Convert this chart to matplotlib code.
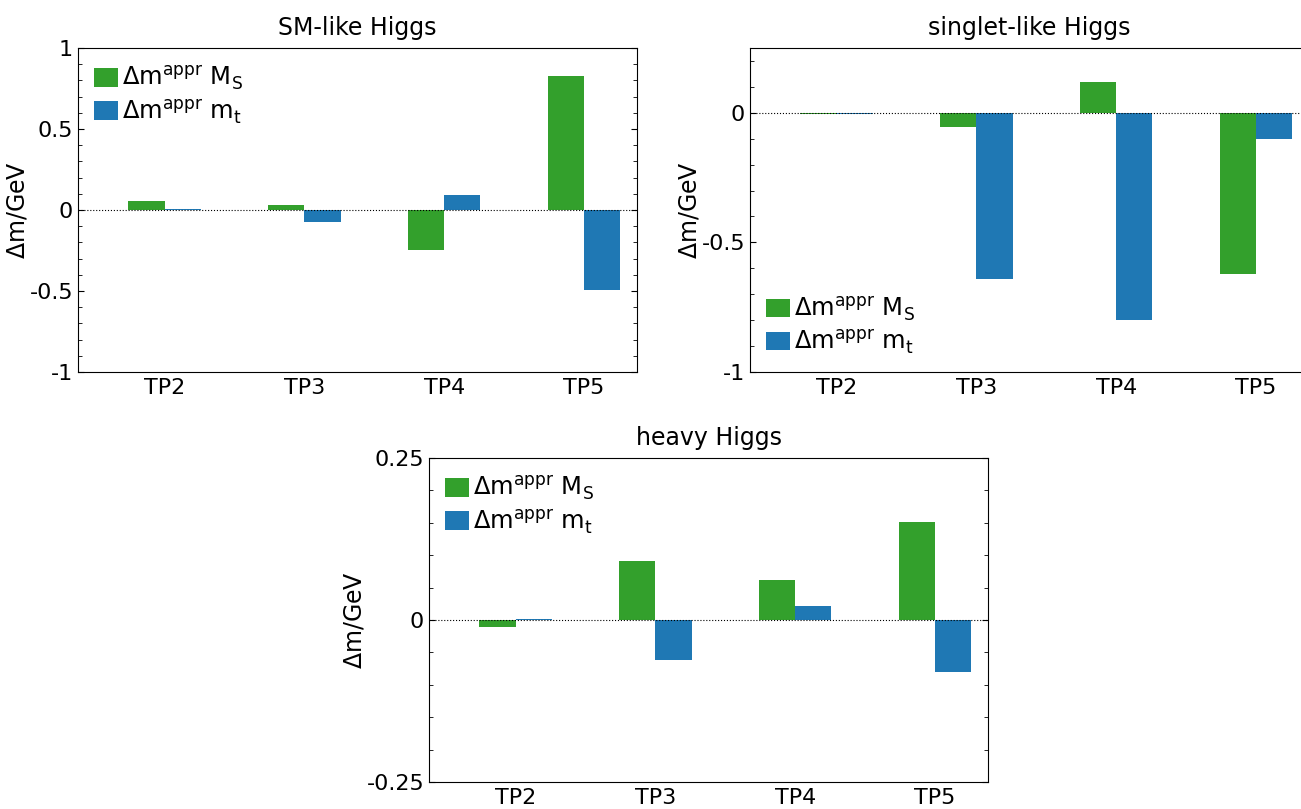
import matplotlib
matplotlib.use('Agg')
import matplotlib.pyplot as plt
import numpy as np
from matplotlib.ticker import MultipleLocator, FuncFormatter

plt.rcParams['mathtext.default'] = 'regular'
plt.rcParams['axes.unicode_minus'] = False

points = ['TP2', 'TP3', 'TP4', 'TP5']

# SM-like Higgs
sm_MS = [0.053, 0.033, -0.245, 0.83]
sm_mt = [0.004, -0.074, 0.09, -0.494]

# singlet-like Higgs
singlet_MS = [-0.003, -0.053, 0.12, -0.622]
singlet_mt = [-0.003, -0.641, -0.80, -0.102]

# heavy Higgs
heavy_MS = [-0.011, 0.091, 0.061, 0.151]
heavy_mt = [0.001, -0.061, 0.021, -0.081]

green = '#33a02c'
blue = '#1f78b4'
w = 0.26

W, H = 1301, 809
fig = plt.figure(figsize=(W / 100, H / 100), dpi=100)


def make_panel(rect, title, v_ms, v_mt, ylim, major, minor, loc):
    ax = fig.add_axes([rect[0] / W, 1 - (rect[1] + rect[3]) / H, rect[2] / W, rect[3] / H])
    x = np.arange(len(points))
    ax.bar(x - w / 2, v_ms, w, color=green, label=r'$\Delta m^{appr}\ M_S$')
    ax.bar(x + w / 2, v_mt, w, color=blue, label=r'$\Delta m^{appr}\ m_t$')
    ax.axhline(0, color='k', lw=0.8, ls=':')
    ax.set_xlim(-0.62, 3.38)
    ax.set_ylim(*ylim)
    ax.set_xticks(x)
    ax.set_xticklabels(points, fontsize=16)
    ax.yaxis.set_major_locator(MultipleLocator(major))
    ax.yaxis.set_minor_locator(MultipleLocator(minor))
    ax.yaxis.set_major_formatter(FuncFormatter(lambda v, p: '%g' % round(v, 4)))
    ax.tick_params(axis='y', which='both', direction='in', left=True, right=True, labelsize=16)
    ax.tick_params(axis='y', which='major', length=4)
    ax.tick_params(axis='y', which='minor', length=3)
    ax.tick_params(axis='x', length=0, pad=4)
    ax.set_ylabel(r'$\Delta m$/GeV', fontsize=17, labelpad=0)
    ax.set_title(title, fontsize=17, pad=9)
    ax.legend(loc=loc, frameon=False, fontsize=17.5, handlelength=1.0, handleheight=0.8,
              handletextpad=0.15, labelspacing=0.2, borderaxespad=0.25, borderpad=0.4)
    return ax


make_panel((78, 48, 559, 324), 'SM-like Higgs', sm_MS, sm_mt, (-1, 1), 0.5, 0.1, 'upper left')
make_panel((750, 48, 559, 324), 'singlet-like Higgs', singlet_MS, singlet_mt, (-1, 0.25), 0.5, 0.1, 'lower left')
make_panel((429, 458, 559, 324), 'heavy Higgs', heavy_MS, heavy_mt, (-0.25, 0.25), 0.25, 0.05, 'upper left')

fig.savefig('out.png', dpi=100)
